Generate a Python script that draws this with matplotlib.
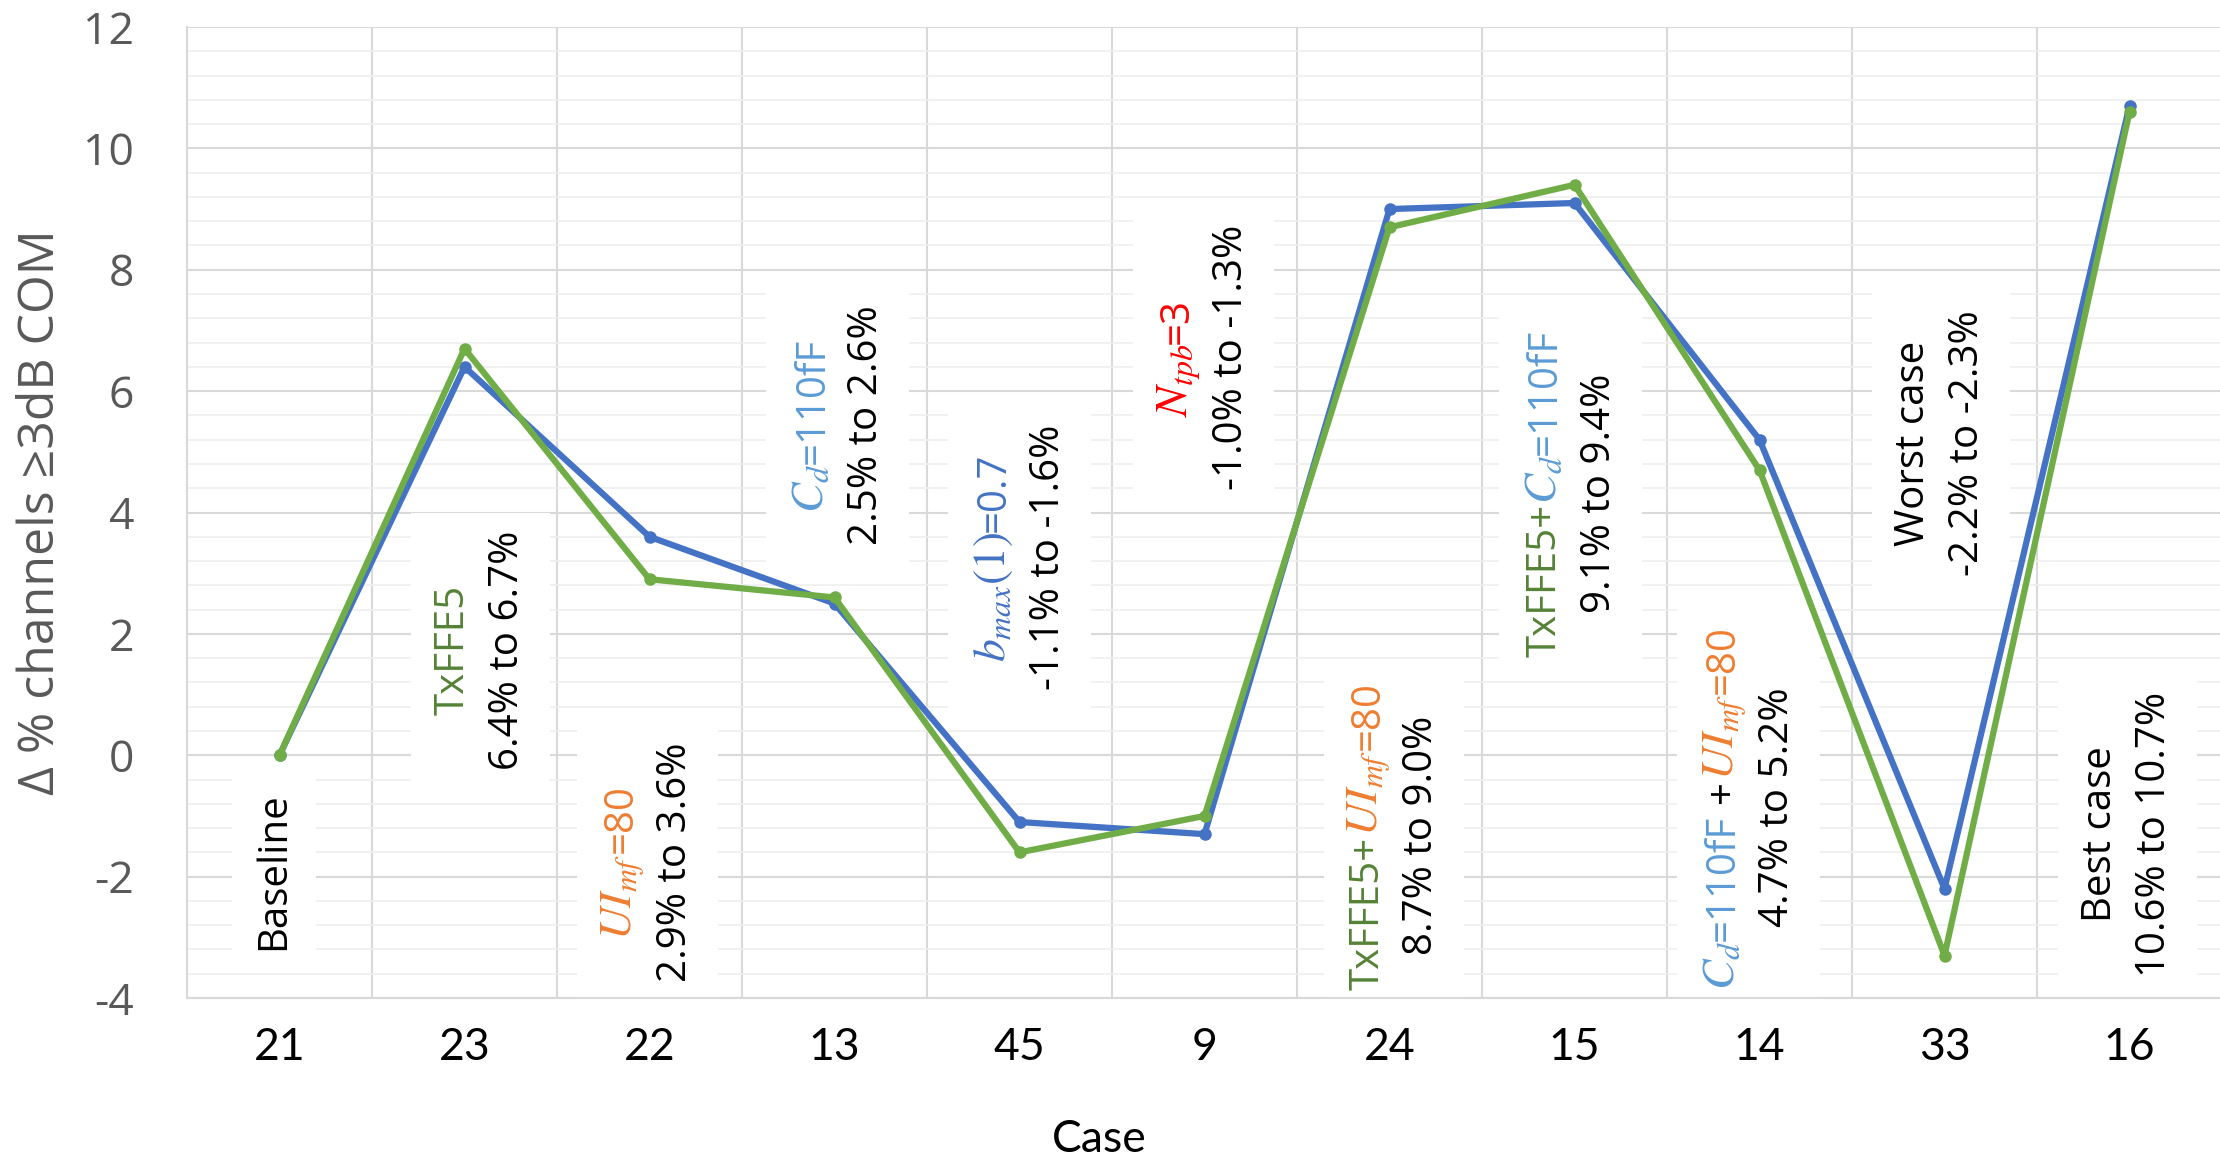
import re
import matplotlib
matplotlib.use("Agg")
import matplotlib.pyplot as plt
from matplotlib.transforms import IdentityTransform, Bbox
from matplotlib.patches import Rectangle
from matplotlib.ticker import MultipleLocator, FixedLocator

plt.rcParams["mathtext.fontset"] = "stix"
plt.rcParams["axes.unicode_minus"] = False

# ---- data -------------------------------------------------------------
cases = ["21", "23", "22", "13", "45", "9", "24", "15", "14", "33", "16"]
series_a = [0.0, 6.4, 3.6, 2.5, -1.1, -1.3, 9.0, 9.1, 5.2, -2.2, 10.7]
series_b = [0.0, 6.7, 2.9, 2.6, -1.6, -1.0, 8.7, 9.4, 4.7, -3.3, 10.6]

y_label = "Δ % channels ≥3dB COM"
x_label = "Case"

# ---- colours ----------------------------------------------------------
C_LINE_A = "#4472C4"
C_LINE_B = "#70AD47"
C_GREEN = "#548235"
C_LBLUE = "#5B9BD5"
C_BLUE = "#4472C4"
C_RED = "#FF0000"
C_ORANGE = "#ED7D31"
C_TEXT = "black"
C_AXIS_TEXT = "#595959"
C_GRID = "#D9D9D9"
C_GRID_MINOR = "#EFEFEF"

# rotated annotations: (x in category units, y in data units, lines of coloured pieces)
annotations = [
    (-0.05, -1.91, [[("Baseline", C_TEXT)]]),
    (1.065, 1.73, [[("TxFFE5", C_GREEN)], [("6.4% to 6.7%", C_TEXT)]]),
    (1.973, -1.76, [[(r"$UI_{mf}$=80", C_ORANGE)], [("2.9% to 3.6%", C_TEXT)]]),
    (3.01, 5.44, [[(r"$C_d$=110fF", C_LBLUE)], [("2.5% to 2.6%", C_TEXT)]]),
    (3.99, 3.26, [[(r"$b_{max}(1)$=0.7", C_BLUE)], [("-1.1% to -1.6%", C_TEXT)]]),
    (4.98, 6.56, [[(r"$N_{tpb}$=3", C_RED)], [("-1.0% to -1.3%", C_TEXT)]]),
    (6.01, -1.32, [[("TxFFE5+", C_GREEN), (r"$UI_{mf}$=80", C_ORANGE)],
                   [("8.7% to 9.0%", C_TEXT)]]),
    (6.97, 4.32, [[("TxFFE5+", C_GREEN), (r"$C_d$=110fF", C_LBLUE)],
                  [("9.1% to 9.4%", C_TEXT)]]),
    (7.93, -0.86, [[(r"$C_d$=110fF ", C_LBLUE), ("+", C_TEXT), (r"$UI_{mf}$=80", C_ORANGE)],
                   [("4.7% to 5.2%", C_TEXT)]]),
    (8.96, 5.14, [[("Worst case", C_TEXT)], [("-2.2% to -2.3%", C_TEXT)]]),
    (9.97, -1.30, [[("Best case", C_TEXT)], [("10.6% to 10.7%", C_TEXT)]]),
]

SANS = ["Open Sans", "DejaVu Sans"]
ANN_SIZE = 29
MATH_SCALE = 1.13  # italic symbols are set a little larger than the text
LINE_GAP = 54      # px between text lines
CAP_HALF = 14      # px from cap centre to baseline
SPACE_PX = 11      # width of a word space
PAD_X, PAD_Y = 22, 18

# ---- figure -----------------------------------------------------------
W, H = 2220, 1163
fig = plt.figure(figsize=(W / 100, H / 100), dpi=100)
left, right, top, bottom = 187, 2222, 27, 998
ax = fig.add_axes([left / W, (H - bottom) / H, (right - left) / W, (bottom - top) / H])

x = list(range(len(cases)))
ax.set_xlim(-0.5, len(cases) - 0.5)
ax.set_ylim(-4, 12)

ax.yaxis.set_major_locator(MultipleLocator(2))
ax.yaxis.set_minor_locator(MultipleLocator(0.4))
ax.xaxis.set_major_locator(FixedLocator(x))
ax.xaxis.set_minor_locator(FixedLocator([i - 0.5 for i in range(len(cases) + 1)]))
ax.set_xticklabels(cases)

ax.set_axisbelow(True)
ax.grid(which="major", axis="y", color=C_GRID, lw=1.5)
ax.grid(which="minor", axis="y", color=C_GRID_MINOR, lw=1.2)
ax.grid(which="minor", axis="x", color=C_GRID, lw=1.5)
ax.grid(which="major", axis="x", visible=False)

for side in ["top", "right"]:
    ax.spines[side].set_visible(False)
for side in ["left", "bottom"]:
    ax.spines[side].set_color(C_GRID)
    ax.spines[side].set_linewidth(1.5)

ax.tick_params(which="both", length=0)
ax.tick_params(axis="y", pad=38, labelsize=32, labelcolor=C_AXIS_TEXT)
ax.tick_params(axis="x", pad=21, labelsize=32, labelcolor=C_TEXT)
for lab in ax.get_yticklabels():
    lab.set_family(SANS)
for lab in ax.get_xticklabels():
    lab.set_family(["Lato", "DejaVu Sans"])

ax.set_ylabel(y_label, fontsize=36, color=C_AXIS_TEXT, family=SANS)
ax.yaxis.set_label_coords((41 - left) / (right - left), 0.5)
ax.yaxis.label.set_va("center")

ax.set_xlabel(x_label, fontsize=32, color=C_TEXT, family=["Lato", "DejaVu Sans"])
ax.xaxis.set_label_coords((1099 - left) / (right - left), (bottom - 1140) / (bottom - top))
ax.xaxis.label.set_va("center")

# ---- series -----------------------------------------------------------
ax.plot(x, series_a, color=C_LINE_A, lw=4.5, marker="o", ms=8, zorder=3,
        solid_joinstyle="round")
ax.plot(x, series_b, color=C_LINE_B, lw=4.5, marker="o", ms=8, zorder=4,
        solid_joinstyle="round")

# ---- rotated, multi-coloured annotations --------------------------------
fig.canvas.draw()
renderer = fig.canvas.get_renderer()
ident = IdentityTransform()


def split_runs(line):
    """Break each (text, colour) piece into plain and math runs."""
    runs = []
    for s, c in line:
        trailing_space = s.endswith(" ")
        parts = [p for p in re.split(r"(\$[^$]*\$)", s.rstrip(" ")) if p]
        for j, p in enumerate(parts):
            is_math = p.startswith("$")
            gap = SPACE_PX if (trailing_space and j == len(parts) - 1) else 0
            runs.append((p, c, ANN_SIZE * (MATH_SCALE if is_math else 1.0), gap))
    return runs


for xd, yd, lines in annotations:
    cx, cy = ax.transData.transform((xd, yd))
    n = len(lines)
    placed = []
    for i, line in enumerate(lines):
        xb = cx + (i - (n - 1) / 2) * LINE_GAP + CAP_HALF
        pieces, gaps = [], []
        for s, c, fs, gap in split_runs(line):
            t = ax.text(xb, 0, s, color=c, fontsize=fs, family=SANS,
                        rotation=90, rotation_mode="anchor", ha="left",
                        va="baseline", transform=ident, zorder=6, clip_on=False)
            pieces.append(t)
            gaps.append(gap)
        lengths = [p.get_window_extent(renderer).height + g for p, g in zip(pieces, gaps)]
        y0 = cy - sum(lengths) / 2
        for p, L in zip(pieces, lengths):
            p.set_position((xb, y0))
            y0 += L
        placed.extend(pieces)
    bb = Bbox.union([p.get_window_extent(renderer) for p in placed])
    ax.add_patch(Rectangle((bb.x0 - PAD_X, bb.y0 - PAD_Y),
                           bb.width + 2 * PAD_X, bb.height + 2 * PAD_Y,
                           transform=ident, facecolor="white", edgecolor="none",
                           zorder=1))

fig.savefig("out.png", dpi=100)
